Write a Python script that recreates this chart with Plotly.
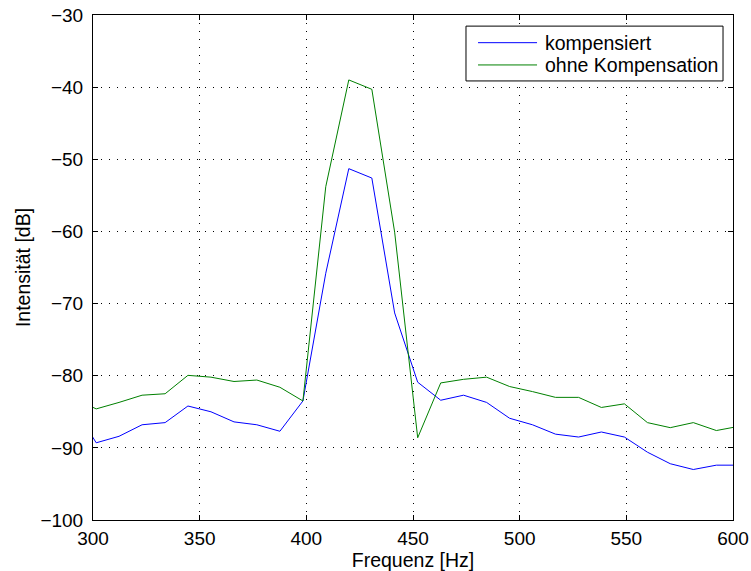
import plotly.graph_objects as go

freq_hz = [290.7, 301.5, 312.2, 323.0, 333.8, 344.5, 355.3, 366.1, 376.8, 387.6,
           398.4, 409.1, 419.9, 430.7, 441.4, 452.2, 463.0, 473.7, 484.5, 495.3,
           506.0, 516.8, 527.6, 538.3, 549.1, 559.9, 570.6, 581.4, 592.2, 603.0]

kompensiert = [-84.1, -89.3, -88.4, -86.8, -86.5, -84.2, -85.0, -86.4, -86.8, -87.7,
               -83.5, -65.8, -51.3, -52.6, -71.3, -80.9, -83.4, -82.7, -83.7, -85.9,
               -86.8, -88.1, -88.5, -87.8, -88.5, -90.6, -92.2, -93.0, -92.4, -92.4]

ohne_kompensation = [-83.1, -84.6, -83.7, -82.7, -82.5, -79.95, -80.2, -80.8, -80.6, -81.6,
                     -83.5, -53.8, -39.0, -40.3, -60.1, -88.6, -81.0, -80.5, -80.2, -81.5,
                     -82.2, -83.0, -83.0, -84.4, -83.9, -86.5, -87.2, -86.5, -87.6, -87.0]

series_names = ["kompensiert", "ohne Kompensation"]
series_colors = ["rgb(0,0,255)", "rgb(0,128,0)"]

x_ticks = [300, 350, 400, 450, 500, 550, 600]
y_ticks = [-100, -90, -80, -70, -60, -50, -40, -30]

FONT = "Liberation Sans, Arial, Helvetica, sans-serif"

fig = go.Figure()
for name, vals, col in zip(series_names, [kompensiert, ohne_kompensation], series_colors):
    fig.add_trace(go.Scatter(x=freq_hz, y=vals, mode="lines", name=name,
                             line=dict(color=col, width=1), showlegend=False))

axis_common = dict(
    showline=True, linecolor="black", linewidth=1, mirror="allticks",
    ticks="inside", ticklen=5, tickcolor="black", tickwidth=1,
    showgrid=True, gridcolor="black", gridwidth=1, griddash="1px,7px",
    zeroline=False, automargin=False,
    tickfont=dict(family=FONT, size=19, color="black"),
)

fig.update_xaxes(range=[300, 600], tickvals=x_ticks, ticklabelstandoff=1,
                 title=dict(text="Frequenz [Hz]", font=dict(family=FONT, size=19.5, color="black"), standoff=2),
                 **axis_common)
fig.update_yaxes(range=[-100, -30], tickvals=y_ticks, ticklabelstandoff=5,
                 title=dict(text="Intensität [dB]", font=dict(family=FONT, size=19.5, color="black"), standoff=4),
                 **axis_common)

# Legend drawn MATLAB-style (box, long line samples, labels)
box_x0, box_x1, box_y0, box_y1 = 0.5828, 0.9844, 0.8694, 0.978
line_x0, line_x1, text_x = 0.6016, 0.6938, 0.7031
row_y = [0.9452, 0.9011]

shapes = [dict(type="rect", xref="paper", yref="paper", x0=box_x0, x1=box_x1, y0=box_y0, y1=box_y1,
               line=dict(color="black", width=1), fillcolor="white", layer="above")]
annotations = []
for name, col, ry in zip(series_names, series_colors, row_y):
    shapes.append(dict(type="line", xref="paper", yref="paper", x0=line_x0, x1=line_x1, y0=ry, y1=ry,
                       line=dict(color=col, width=1), layer="above"))
    annotations.append(dict(xref="paper", yref="paper", x=text_x, y=ry, text=name, showarrow=False,
                            xanchor="left", yanchor="middle",
                            font=dict(family=FONT, size=19.5, color="black")))

fig.update_layout(
    width=751, height=571,
    margin=dict(l=93, r=18, t=15, b=51),
    paper_bgcolor="white", plot_bgcolor="white",
    font=dict(family=FONT, size=19, color="black"),
    showlegend=False,
    shapes=shapes,
    annotations=annotations,
)

fig.write_html("out.html")
